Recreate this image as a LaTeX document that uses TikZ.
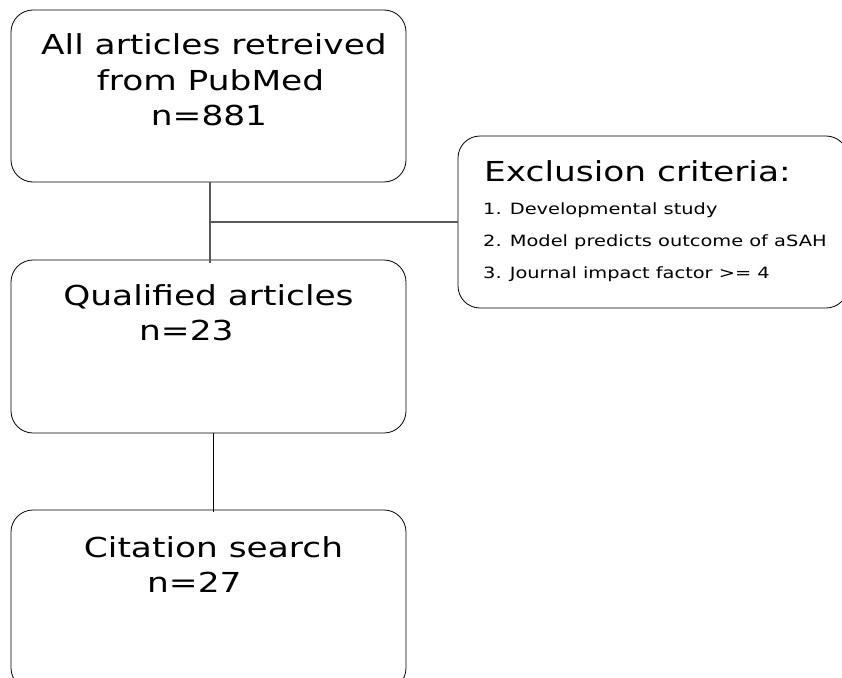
\documentclass[tikz,border=0pt]{standalone}
\usepackage{fontspec}
\newfontfamily\dv[FakeStretch=1.25]{DejaVu Sans}
\begin{document}
\begin{tikzpicture}[x=1pt,y=-1pt,
  box/.style={draw=black,line width=0.8pt,rounded corners=22pt,inner sep=0pt,minimum width=395pt},
  big/.style={inner sep=0pt,font=\dv\fontsize{27.5}{34.5}\selectfont},
  small/.style={inner sep=0pt,anchor=base west,font=\dv\fontsize{15.5}{20}\selectfont},
  conn/.style={line width=1.2pt,draw=black!65},
  conn2/.style={line width=0.8pt,draw=black}]
\useasboundingbox[fill=white] (0,0) rectangle (842,677);
\begin{scope}
\clip (0,0) rectangle (842,677);
\node[box,minimum height=172pt] (b1) at (208.5,96) {};
\node[box,minimum height=173pt] (b2) at (208.5,346.5) {};
\node[box,minimum height=180pt] (b3) at (208.5,600) {};
\node[box,minimum width=390pt,minimum height=172pt] (ex) at (653,222) {};
\end{scope}
% texts
\node[big,anchor=base] (t1a) at (214,55) {All articles retreived};
\node[big,anchor=base] (t1b) at (210.5,90) {from PubMed};
\node[big,anchor=base] (t1c) at (209,125) {n=881};
\node[big,anchor=base] (t2a) at (208.5,305) {Qualified articles};
\node[big,anchor=base west] (t2b) at (139,340) {n=23};
\node[big,anchor=base] (t3a) at (213.5,557) {Citation search};
\node[big,anchor=base west] (t3b) at (147,592) {n=27};
\node[big,anchor=base west] (ext) at (484,181) {Exclusion criteria:};
\node[small] (e1) at (483,214) {1. Developmental study};
\node[small] (e2) at (483,246) {2. Model predicts outcome of aSAH};
\node[small] (e3) at (483,278) {3. Journal impact factor >= 4};
% connectors
\coordinate (j) at ([xshift=1.5pt]b1.south |- ex.west);
\draw[conn] ([xshift=1.5pt]b1.south) -- ([xshift=1.5pt,yshift=-3pt]b2.north);
\draw[conn] (j) -- (ex.west);
\draw[conn2] ([xshift=5pt]b2.south) -- ([xshift=5pt,yshift=-2pt]b3.north);
\end{tikzpicture}
\end{document}
